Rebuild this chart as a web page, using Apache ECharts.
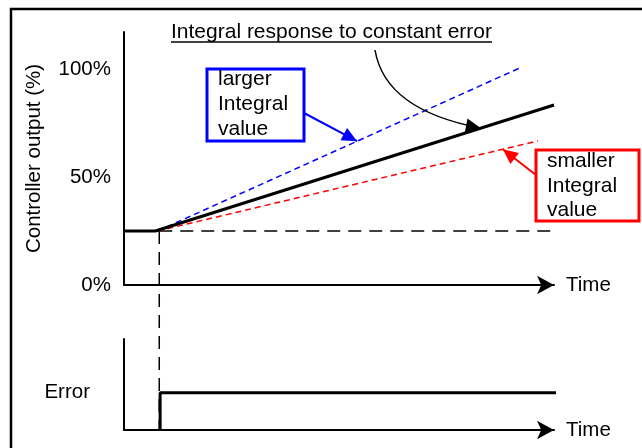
<!DOCTYPE html>
<html>
<head>
<meta charset="utf-8">
<script src="https://cdn.jsdelivr.net/npm/echarts@6/dist/echarts.min.js"></script>
<style>
  html, body { margin: 0; padding: 0; background: #fff; }
  #main { width: 642px; height: 448px; }
</style>
</head>
<body>
<div id="main"></div>
<script>
// values (time in % of axis length, output in %)
var outTicks = [0, 50, 100];
var outTickLabels = ['0%', '50%', '100%'];
var ctrlT = [0, 7.3, 100];
var ctrlOut = [25, 25, 83.3];
var largerT = [7.8, 92.1];
var largerOut = [25, 100.5];
var smallerT = [7.8, 96.3];
var smallerOut = [25, 66.7];
var refT = [8.2, 100.5];
var refOut = [25, 25];
var stepT = [8.2, 8.2];
var stepOut = [25, -67];
var errT = [8.4, 8.4, 100.5];
var errVal = [0, 0.41, 0.41];

var FONT = '"Liberation Sans", Arial, sans-serif';
var FS = 20.5;

function pairs(xs, ys) {
    var out = [];
    for (var i = 0; i < xs.length; i++) out.push([xs[i], ys[i]]);
    return out;
}

var chart = echarts.init(document.getElementById('main'), null, { renderer: 'canvas' });

var axisLine = { lineStyle: { color: '#000', width: 2 } };

option = {
    animation: false,
    backgroundColor: '#fff',
    grid: [
        { left: 124, top: 32, width: 430, height: 253 },
        { left: 124, top: 339, width: 430, height: 91 }
    ],
    xAxis: [{
        gridIndex: 0, type: 'value', min: 0, max: 100,
        axisLine: { lineStyle: { color: '#000', width: 2 }, symbol: ['none', 'arrow'], symbolSize: [14, 17], symbolOffset: [0, 0] },
        axisTick: { show: false }, axisLabel: { show: false }, splitLine: { show: false },
        name: 'Time', nameLocation: 'end', nameGap: 12,
        nameTextStyle: { color: '#000', fontSize: FS, fontFamily: FONT }
    }, {
        gridIndex: 1, type: 'value', min: 0, max: 100,
        axisLine: { lineStyle: { color: '#000', width: 2 }, symbol: ['none', 'arrow'], symbolSize: [14, 17], symbolOffset: [0, 0] },
        axisTick: { show: false }, axisLabel: { show: false }, splitLine: { show: false },
        name: 'Time', nameLocation: 'end', nameGap: 12,
        nameTextStyle: { color: '#000', fontSize: FS, fontFamily: FONT }
    }],
    yAxis: [{
        gridIndex: 0, type: 'value', min: 0, max: 117.1,
        axisLine: axisLine,
        axisTick: { show: false }, splitLine: { show: false },
        axisLabel: {
            customValues: outTicks, margin: 13, color: '#000', fontSize: FS, fontFamily: FONT,
            formatter: function (v) { return outTickLabels[outTicks.indexOf(v)]; }
        },
        name: 'Controller output (%)', nameLocation: 'middle', nameGap: 79, nameRotate: 90,
        nameTextStyle: { color: '#000', fontSize: FS, fontFamily: FONT }
    }, {
        gridIndex: 1, type: 'value', min: 0, max: 1,
        axisLine: axisLine,
        axisTick: { show: false }, splitLine: { show: false },
        axisLabel: {
            customValues: [errVal[1]], margin: 34, color: '#000', fontSize: FS, fontFamily: FONT,
            formatter: function () { return 'Error'; }
        }
    }],
    series: [{
        name: 'reference', type: 'line', xAxisIndex: 0, yAxisIndex: 0, clip: false,
        data: pairs(refT, refOut), symbol: 'none',
        lineStyle: { color: '#000', width: 1.5, type: [13, 8] }
    }, {
        name: 'step', type: 'line', xAxisIndex: 0, yAxisIndex: 0, clip: false,
        data: pairs(stepT, stepOut), symbol: 'none',
        lineStyle: { color: '#000', width: 1.5, type: [13, 8] }
    }, {
        name: 'larger', type: 'line', xAxisIndex: 0, yAxisIndex: 0, clip: false,
        data: pairs(largerT, largerOut), symbol: 'none',
        lineStyle: { color: '#0000ff', width: 1.5, type: [6, 4] }
    }, {
        name: 'smaller', type: 'line', xAxisIndex: 0, yAxisIndex: 0, clip: false,
        data: pairs(smallerT, smallerOut), symbol: 'none',
        lineStyle: { color: '#ff0000', width: 1.5, type: [6, 4] }
    }, {
        name: 'output', type: 'line', xAxisIndex: 0, yAxisIndex: 0, clip: false,
        data: pairs(ctrlT, ctrlOut), symbol: 'none', z: 5,
        lineStyle: { color: '#000', width: 3 }
    }, {
        name: 'error', type: 'line', xAxisIndex: 1, yAxisIndex: 1, clip: false,
        data: pairs(errT, errVal), symbol: 'none',
        lineStyle: { color: '#000', width: 3 }
    }]
};
chart.setOption(option);

// annotations, anchored to points on the lines
function px(x, y) { return chart.convertToPixel({ gridIndex: 0 }, [x, y]); }
function onLine(xs, ys, t) {
    var k = (t - xs[0]) / (xs[xs.length - 1] - xs[0]);
    return px(t, ys[0] + k * (ys[ys.length - 1] - ys[0]));
}
function arrowHead(tip, from, len, half, color) {
    var dx = tip[0] - from[0], dy = tip[1] - from[1];
    var d = Math.sqrt(dx * dx + dy * dy);
    var ux = dx / d, uy = dy / d;
    var bx = tip[0] - ux * len, by = tip[1] - uy * len;
    return {
        type: 'polygon', z: 20,
        shape: { points: [tip, [bx - uy * half, by + ux * half], [bx + uy * half, by - ux * half]] },
        style: { fill: color }
    };
}

var blueTip = onLine(largerT, largerOut, 54.2);
var redTip = onLine(smallerT, smallerOut, 88.1);
var blackTip = onLine([ctrlT[1], ctrlT[2]], [ctrlOut[1], ctrlOut[2]], 83);
var blueFrom = [304, 113];
var redFrom = [536, 175];
var curveStart = [375, 50], curveCtrl = [385, 110];

var titleText = 'Integral response to constant error';
var ctx = document.createElement('canvas').getContext('2d');
ctx.font = '21px ' + FONT;
var titleW = ctx.measureText(titleText).width;

var graphic = [
    { type: 'rect', z: 1, shape: { x: 11, y: 9, width: 640, height: 460 }, style: { fill: 'none', stroke: '#000', lineWidth: 2.5 } },
    { type: 'text', z: 20, style: { text: titleText, x: 171, y: 32, font: '21px ' + FONT, fill: '#000', verticalAlign: 'middle' } },
    { type: 'line', z: 20, shape: { x1: 171, y1: 42, x2: 171 + titleW, y2: 42 }, style: { stroke: '#000', lineWidth: 1.5 } },

    { type: 'rect', z: 15, shape: { x: 207, y: 69, width: 97, height: 72 }, style: { fill: '#fff', stroke: '#0000ff', lineWidth: 3 } },
    { type: 'text', z: 16, style: { text: 'larger\nIntegral\nvalue', x: 218, y: 67, font: '21px ' + FONT, lineHeight: 25, fill: '#000', verticalAlign: 'top' } },
    { type: 'line', z: 20, shape: { x1: blueFrom[0], y1: blueFrom[1], x2: blueTip[0], y2: blueTip[1] }, style: { stroke: '#0000ff', lineWidth: 2 } },
    arrowHead(blueTip, blueFrom, 15, 7, '#0000ff'),

    { type: 'rect', z: 15, shape: { x: 536, y: 150, width: 103, height: 71 }, style: { fill: '#fff', stroke: '#ff0000', lineWidth: 3 } },
    { type: 'text', z: 16, style: { text: 'smaller\nIntegral\nvalue', x: 547, y: 149, font: '21px ' + FONT, lineHeight: 24.5, fill: '#000', verticalAlign: 'top' } },
    { type: 'line', z: 20, shape: { x1: redFrom[0], y1: redFrom[1], x2: redTip[0], y2: redTip[1] }, style: { stroke: '#ff0000', lineWidth: 2 } },
    arrowHead(redTip, redFrom, 15, 7, '#ff0000'),

    { type: 'bezierCurve', z: 20, shape: { x1: curveStart[0], y1: curveStart[1], cpx1: curveCtrl[0], cpy1: curveCtrl[1], x2: blackTip[0], y2: blackTip[1] }, style: { stroke: '#000', lineWidth: 1.5, fill: 'none' } },
    arrowHead(blackTip, curveCtrl, 15, 7, '#000')
];
chart.setOption({ graphic: graphic });
</script>
</body>
</html>
